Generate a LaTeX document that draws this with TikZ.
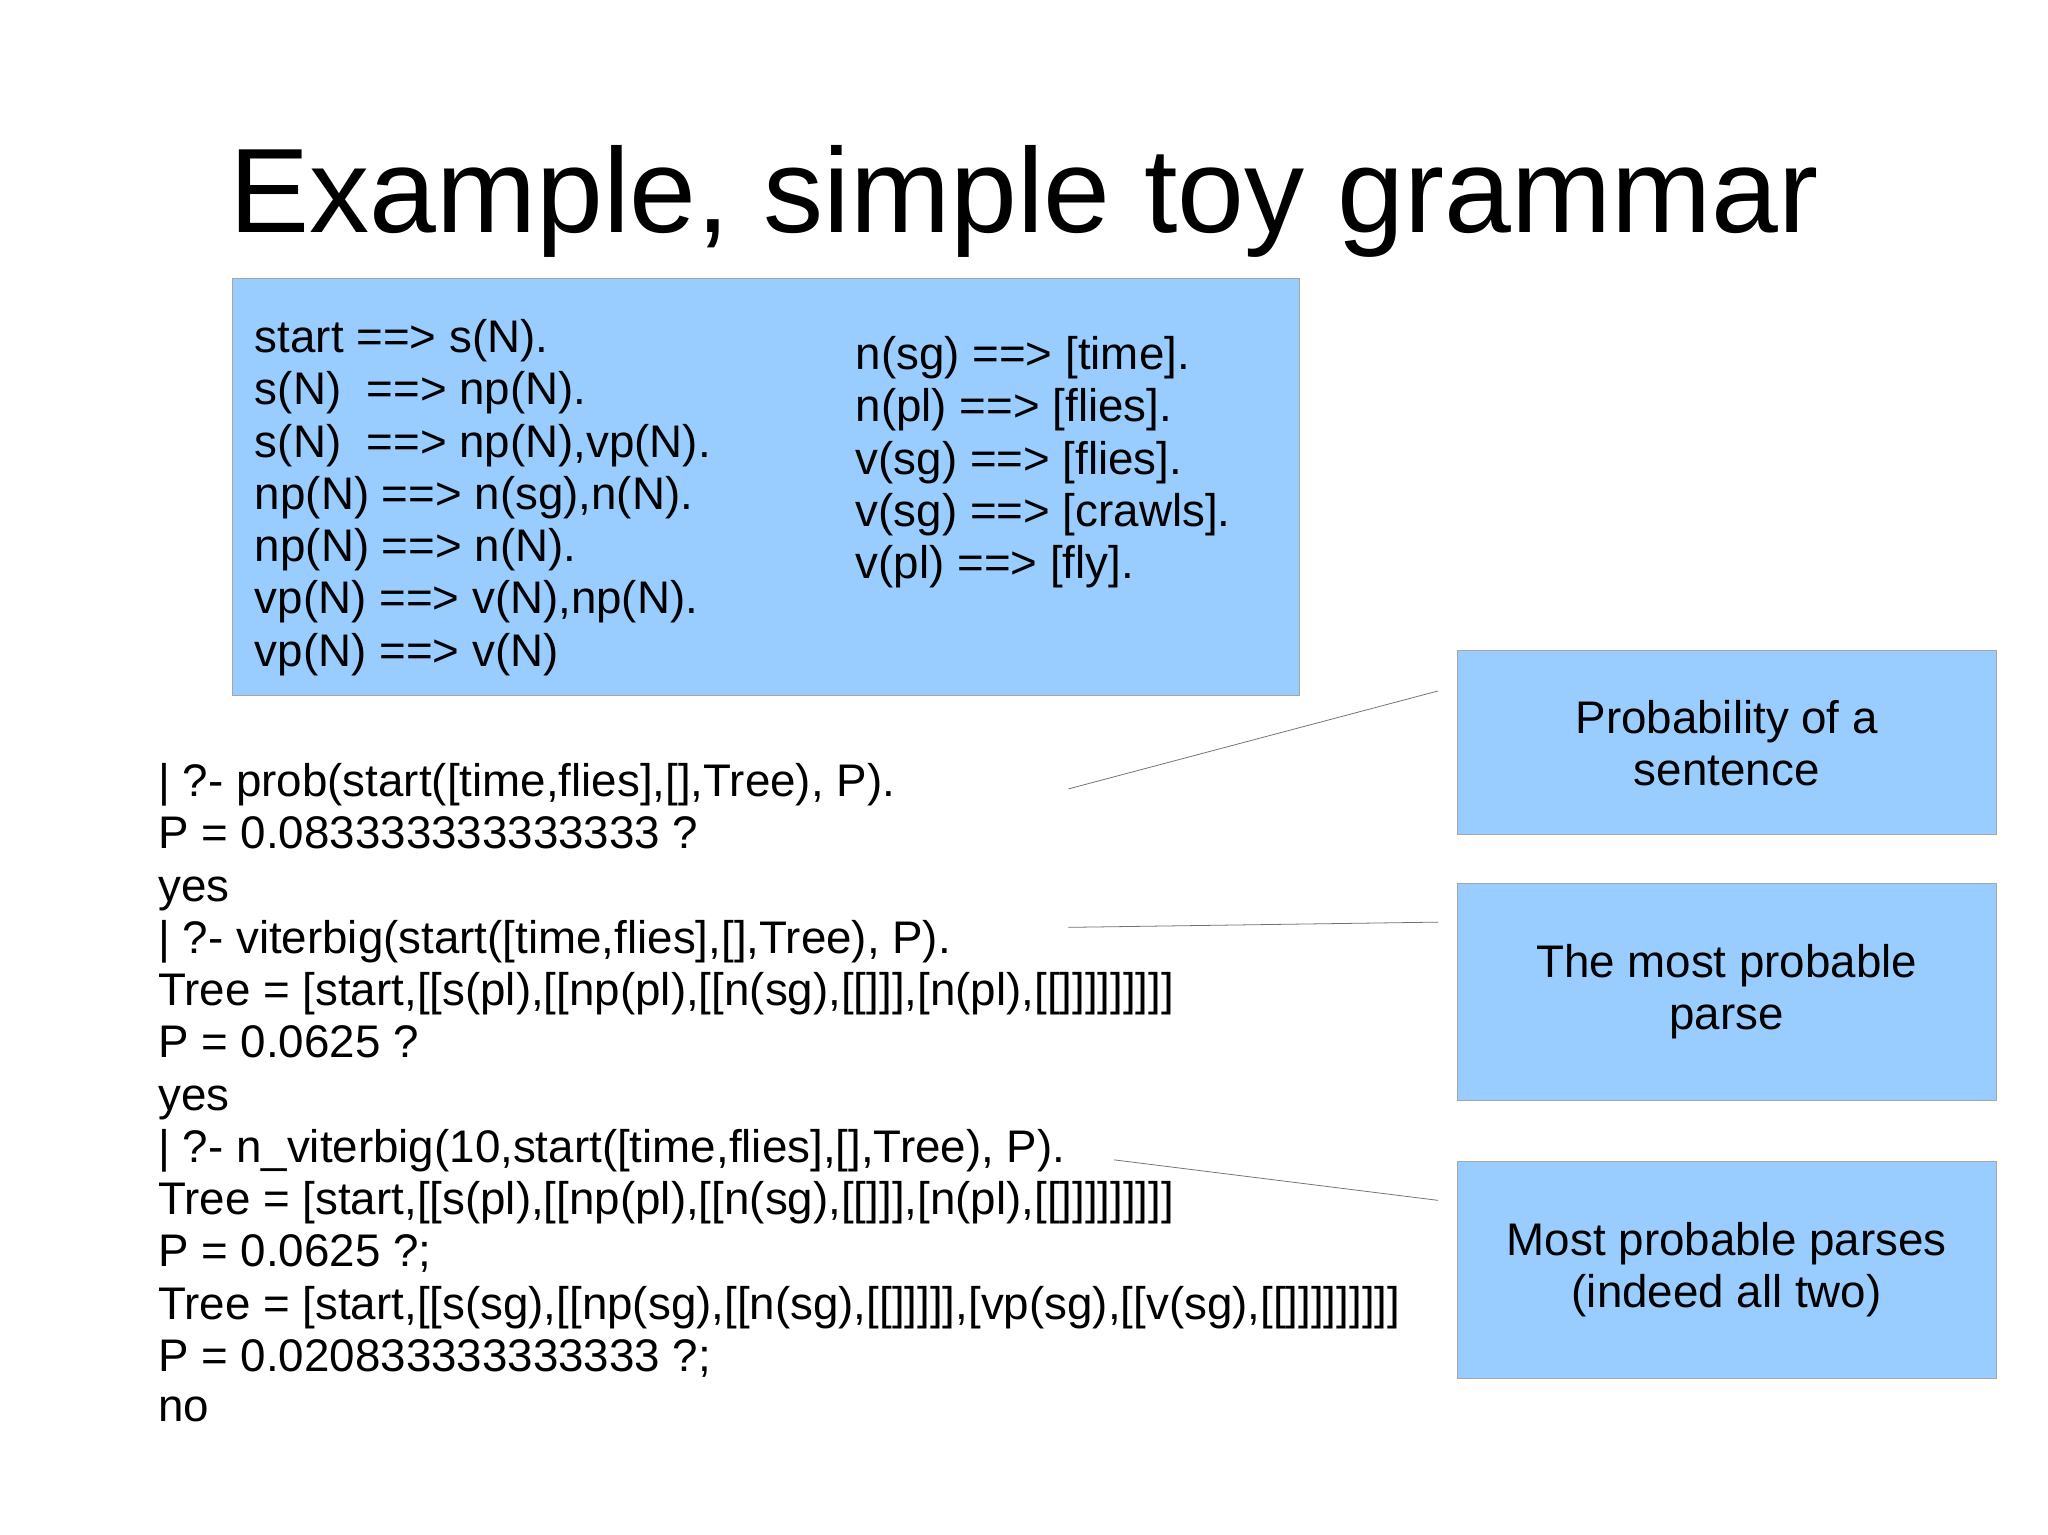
\documentclass[tikz,border=0pt]{standalone}
\usepackage{fontspec}
\setmainfont{Liberation Sans}
\begin{document}
\begin{tikzpicture}[x=1pt,y=-1pt,
  txt/.style={anchor=base west,inner sep=0pt,font=\fontsize{35}{40}\selectfont},
  bbox/.style={draw=black!30!blue!40,fill=blue!40!cyan!40!white,line width=0.8pt},
  note/.style={align=center,font=\fontsize{35}{40}\selectfont,inner sep=0pt},
  lnk/.style={draw=black!55,line width=0.6pt}]
\definecolor{boxblue}{HTML}{99CCFF}
\useasboundingbox (0,0) rectangle (1568,1175.2);
\fill[white] (0,0) rectangle (1568,1175.2);
\node[anchor=base,inner sep=0pt,font=\fontsize{92}{100}\selectfont] (title) at (784,178) {Example, simple toy grammar};
\draw[fill=boxblue,draw=black!35] (178,213) rectangle (995,532);
\foreach \t [count=\i] in {start ==> s(N).,s(N)\ \ ==> np(N).,s(N)\ \ ==> {np(N),vp(N)}.,np(N) ==> {n(sg),n(N)}.,np(N) ==> n(N).,vp(N) ==> {v(N),np(N)}.,vp(N) ==> v(N)}
  \node[txt] (g\i) at (195,{257+40*(\i-1)+13}) {\t};
\foreach \t [count=\i] in {n(sg) ==> [time].,n(pl) ==> [flies].,v(sg) ==> [flies].,v(sg) ==> [crawls].,v(pl) ==> [fly].}
  \node[txt] (h\i) at (655,{270+40*(\i-1)+13}) {\t};
\node[txt] (q1) at (121,610) {| ?- prob(start([time,flies],[],Tree), P).};
\node[txt] (q2) at (121,650) {P = 0.083333333333333 ?};
\node[txt] (q3) at (121,690) {yes};
\node[txt] (q4) at (121,730) {| ?- viterbig(start([time,flies],[],Tree), P).};
\node[txt] (q5) at (121,770) {Tree = [start,[[s(pl),[[np(pl),[[n(sg),[[]]],[n(pl),[[]]]]]]]]]};
\node[txt] (q6) at (121,810) {P = 0.0625 ?};
\node[txt] (q7) at (121,850) {yes};
\node[txt] (q8) at (121,890) {| ?- n\_viterbig(10,start([time,flies],[],Tree), P).};
\node[txt] (q9) at (121,930) {Tree = [start,[[s(pl),[[np(pl),[[n(sg),[[]]],[n(pl),[[]]]]]]]]]};
\node[txt] (q10) at (121,970) {P = 0.0625 ?;};
\node[txt] (q11) at (121,1010) {Tree = [start,[[s(sg),[[np(sg),[[n(sg),[[]]]]],[vp(sg),[[v(sg),[[]]]]]]]]]};
\node[txt] (q12) at (121,1050) {P = 0.020833333333333 ?;};
\node[txt] (q13) at (121,1088) {no};
\draw[fill=boxblue,draw=black!35] (1116,498) rectangle (1528,639);
\draw[fill=boxblue,draw=black!35] (1116,676) rectangle (1528,842);
\draw[fill=boxblue,draw=black!35] (1116,889) rectangle (1528,1055);
\node[note] (n1) at (1322,569) {Probability of a\\sentence};
\node[note] (n2) at (1322,759) {The most probable\\parse};
\node[note] (n3) at (1322,972) {Most probable parses\\(indeed all two)};
\coordinate (a1) at (818,604); \coordinate (b1) at (1101,529);
\coordinate (a2) at (818,710); \coordinate (b2) at (1101,706);
\coordinate (a3) at (853,888); \coordinate (b3) at (1101,919);
\draw[lnk] (a1) -- (b1);
\draw[lnk] (a2) -- (b2);
\draw[lnk] (a3) -- (b3);
\end{tikzpicture}
\end{document}
